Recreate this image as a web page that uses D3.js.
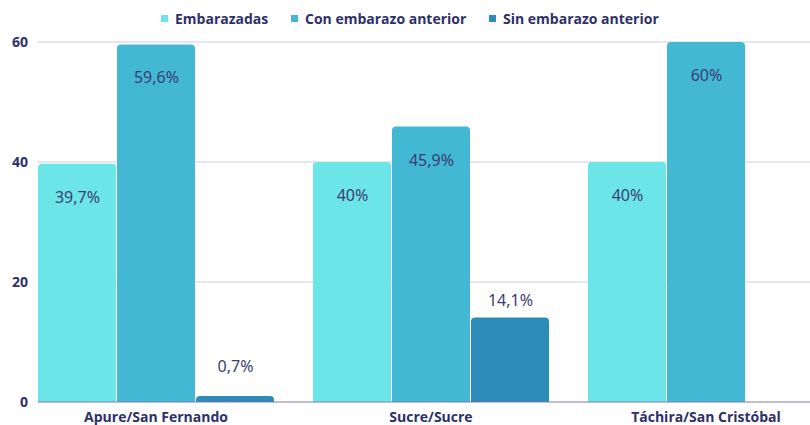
<!DOCTYPE html>
<html>
<head>
<meta charset="utf-8">
<script src="https://cdn.jsdelivr.net/npm/d3@7"></script>
<style>
  body { margin: 0; background: #fff; }
  svg { display: block; }
</style>
</head>
<body>
<svg id="chart" width="810" height="425"></svg>
<script>
// --- Data ---
const categories = ["Apure/San Fernando", "Sucre/Sucre", "Táchira/San Cristóbal"];
const seriesNames = ["Embarazadas", "Con embarazo anterior", "Sin embarazo anterior"];
const embarazadas = [39.7, 40, 40];
const conEmbarazo = [59.6, 45.9, 60];
const sinEmbarazo = [0.7, 14.1, null];
const valueLabels = [
  ["39,7%", "40%", "40%"],
  ["59,6%", "45,9%", "60%"],
  ["0,7%", "14,1%", ""]
];
const yTicks = [0, 20, 40, 60];
const colors = ["#6ce5e8", "#42b8d5", "#2d8bba"];

const series = [embarazadas, conEmbarazo, sinEmbarazo];

const svg = d3.select("#chart"),
  margin = { top: 42, left: 38, bottom: 23 },
  H = +svg.attr("height"),
  W = +svg.attr("width");

const navy = "#2d2f6b";

// 3 groups of 275px each; the last one runs past the right edge
const x0 = d3.scaleBand().domain(categories).range([margin.left, margin.left + 275 * 3]).paddingInner(0).paddingOuter(0);
const x1 = d3.scaleBand().domain(seriesNames).range([0, 237]);
const y = d3.scaleLinear().domain([0, 60]).range([H - margin.bottom, margin.top]);

// gridlines
svg.append("g")
  .selectAll("line")
  .data(yTicks.filter(d => d > 0))
  .join("line")
  .attr("x1", margin.left).attr("x2", W)
  .attr("y1", d => y(d)).attr("y2", d => y(d))
  .attr("stroke", "#cdcde0").attr("stroke-width", 1);

// y tick labels
svg.append("g")
  .selectAll("text")
  .data(yTicks)
  .join("text")
  .attr("x", 28)
  .attr("y", d => y(d) + 5)
  .attr("text-anchor", "end")
  .style("font-family", "'Open Sans', sans-serif")
  .style("font-weight", 700)
  .style("font-size", "14px")
  .attr("fill", navy)
  .text(d => d);

// bars with rounded tops
function topRounded(x, yTop, w, h, r) {
  r = Math.min(r, w / 2);
  // tiny bars still show their rounded cap
  if (h < r + 2) { yTop -= (r + 2 - h); h = r + 2; }
  return `M${x},${yTop + h}V${yTop + r}Q${x},${yTop} ${x + r},${yTop}H${x + w - r}Q${x + w},${yTop} ${x + w},${yTop + r}V${yTop + h}Z`;
}

const bars = [];
categories.forEach((c, ci) => {
  series.forEach((s, si) => {
    if (s[ci] == null) return;
    bars.push({ cat: c, name: seriesNames[si], si, v: s[ci], label: valueLabels[si][ci] });
  });
});

const g = svg.append("g");
g.selectAll("path")
  .data(bars)
  .join("path")
  .attr("d", d => {
    const bx = x0(d.cat) + x1(d.name);
    const top = y(d.v);
    return topRounded(bx, top, x1.bandwidth() - 1, y(0) - top, 4);
  })
  .attr("fill", d => colors[d.si]);

// value labels
g.selectAll("text")
  .data(bars)
  .join("text")
  .attr("x", d => x0(d.cat) + x1(d.name) + x1.bandwidth() / 2)
  .attr("y", d => d.v >= 20 ? y(d.v) + 39 : Math.min(y(d.v) - 11, y(0) - 30))
  .attr("text-anchor", "middle")
  .style("font-family", "'Noto Sans', sans-serif")
  .style("font-size", "16px")
  .attr("fill", "#3b3d72")
  .text(d => d.label);

// baseline
svg.append("line")
  .attr("x1", margin.left).attr("x2", W)
  .attr("y1", y(0)).attr("y2", y(0))
  .attr("stroke", "#7d7fa8").attr("stroke-width", 1.2);

// category labels
svg.append("g")
  .selectAll("text")
  .data(categories)
  .join("text")
  .attr("x", d => x0(d) + 118)
  .attr("y", y(0) + 20)
  .attr("text-anchor", "middle")
  .style("font-family", "'Open Sans', sans-serif")
  .style("font-weight", 700)
  .style("font-size", "14px")
  .attr("fill", navy)
  .text(d => d);

// legend
const legendX = [160, 290, 488];
const legend = svg.append("g")
  .selectAll("g")
  .data(seriesNames)
  .join("g")
  .attr("transform", (d, i) => `translate(${legendX[i]},0)`);
legend.append("rect")
  .attr("x", 1).attr("y", 15)
  .attr("width", 7).attr("height", 7)
  .attr("fill", (d, i) => colors[i]);
legend.append("text")
  .attr("x", 15).attr("y", 24)
  .style("font-family", "'Open Sans', sans-serif")
  .style("font-weight", 700)
  .style("font-size", "14px")
  .attr("fill", navy)
  .text(d => d);
</script>
</body>
</html>
